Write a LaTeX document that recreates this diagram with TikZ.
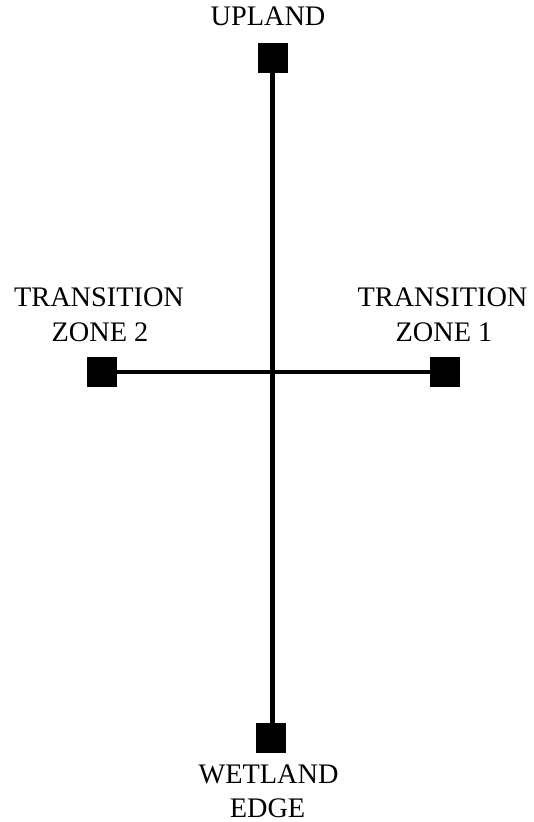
\documentclass[tikz,border=0pt]{standalone}
\usepackage{fontspec}
\setmainfont{Liberation Serif}
\begin{document}
\begin{tikzpicture}[x=1pt,y=-1pt,
  marker/.style={fill=black,draw=none,minimum size=30pt,inner sep=0pt,outer sep=0pt},
  lbl/.style={anchor=base,inner sep=0pt,font=\fontsize{28.3}{34}\selectfont},
  conn/.style={line width=4.8pt}]
\useasboundingbox (0,0) rectangle (533,822);
\node[marker] (up) at (272.5,57.5) {};
\node[marker] (we) at (271,738) {};
\node[marker] (tz2) at (102,372) {};
\node[marker] (tz1) at (444.5,372) {};
\draw[conn] (up.center) -- (up.center |- we.center);
\draw[conn] (tz2.center) -- (tz1.center);
\node[lbl] (lup) at (268,25) {UPLAND};
\node[lbl] (ltz2a) at (99,306) {TRANSITION};
\node[lbl] (ltz2b) at (100,341) {ZONE 2};
\node[lbl] (ltz1a) at (442.5,306) {TRANSITION};
\node[lbl] (ltz1b) at (444,341) {ZONE 1};
\node[lbl] (lwea) at (268.5,783) {WETLAND};
\node[lbl] (lweb) at (267.5,817) {EDGE};
\end{tikzpicture}
\end{document}
